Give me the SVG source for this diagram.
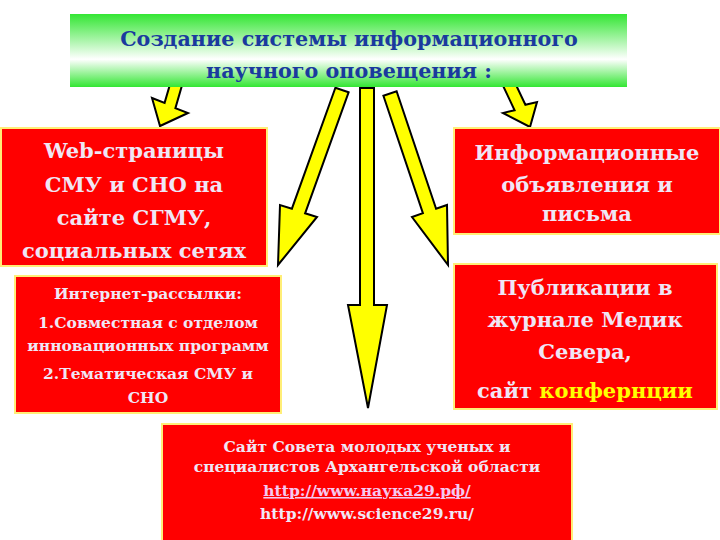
<svg xmlns="http://www.w3.org/2000/svg" width="720" height="540" viewBox="0 0 720 540">
<defs>
<linearGradient id="g" x1="0" y1="0" x2="0" y2="1">
<stop offset="0" stop-color="#33e633"/>
<stop offset="0.62" stop-color="#ffffff"/>
<stop offset="1" stop-color="#33e633"/>
</linearGradient>
</defs>
<style>
.box{fill:#ff0000;stroke:#ffee77;stroke-width:2}
.arr{fill:#ffff00;stroke:#000;stroke-width:2;stroke-linejoin:miter}
text{font-family:'DejaVu Serif',serif;font-weight:bold}
.t{fill:#f0e6f5;text-anchor:middle}
.big{font-size:21px}
.sm{font-size:15.5px}
.title{font-size:20.7px;fill:#1a3a9e;text-anchor:middle}
</style>
<rect width="720" height="540" fill="#ffffff"/>
<g id="connectors">
<polygon class="arr" points="183.4,80.6 172.6,75.4 164.6,102.9 152,98 160,126 188,113 175.4,108.1"/>
<polygon class="arr" points="512.4,77.3 501.6,82.7 514.6,110.2 503,113 530,127 537,102 525.4,104.8"/>
<polygon class="arr" points="348.6,92.3 335.4,87.7 291.9,208.7 280,205 278,265 317,217 305.1,213.3"/>
<polygon class="arr" points="360,88 374,88 374,305 387,305 368,408 348,305 360,305"/>
<polygon class="arr" points="383.4,95.7 396.6,91.3 436.1,208.8 447,205 448,265 412,217 422.9,213.2"/>
</g>
<g id="title">
<rect x="70" y="14" width="557" height="73" fill="url(#g)"/>
<text class="title" x="349" y="46">Создание системы информационного</text>
<text class="title" x="349" y="78">научного оповещения :</text>
</g>
<g id="web">
<rect class="box" x="1" y="128" width="266" height="138"/>
<text class="t big" x="134" y="158">Web-страницы</text>
<text class="t big" x="134" y="192">СМУ и СНО на</text>
<text class="t big" x="134" y="225">сайте СГМУ,</text>
<text class="t big" x="134" y="258">социальных сетях</text>
</g>
<g id="mail">
<rect class="box" x="15" y="276" width="266" height="137"/>
<text class="t sm" x="148" y="299">Интернет-рассылки:</text>
<text class="t sm" x="148" y="328">1.Совместная с отделом</text>
<text class="t sm" x="148" y="351">инновационных программ</text>
<text class="t sm" x="148" y="379">2.Тематическая СМУ и</text>
<text class="t sm" x="148" y="403">СНО</text>
</g>
<g id="info">
<rect class="box" x="454" y="128" width="266" height="106"/>
<text class="t big" x="587" y="160">Информационные</text>
<text class="t big" x="587" y="192">объявления и</text>
<text class="t big" x="587" y="221">письма</text>
</g>
<g id="pub">
<rect class="box" x="454" y="264" width="263" height="145"/>
<text class="t big" x="585" y="295">Публикации в</text>
<text class="t big" x="585" y="327">журнале Медик</text>
<text class="t big" x="585" y="359">Севера,</text>
<text class="t big" x="585" y="398">сайт <tspan fill="#ffff00">конфернции</tspan></text>
</g>
<g id="site">
<rect class="box" x="162" y="424" width="410" height="118"/>
<text class="t sm" x="367" y="452">Сайт Совета молодых ученых и</text>
<text class="t sm" x="367" y="472">специалистов Архангельской области</text>
<text class="t sm" x="367" y="496" text-decoration="underline" style="fill:#f5c8f0">http://www.наука29.рф/</text>
<text class="t sm" x="367" y="519">http://www.science29.ru/</text>
</g>
</svg>
